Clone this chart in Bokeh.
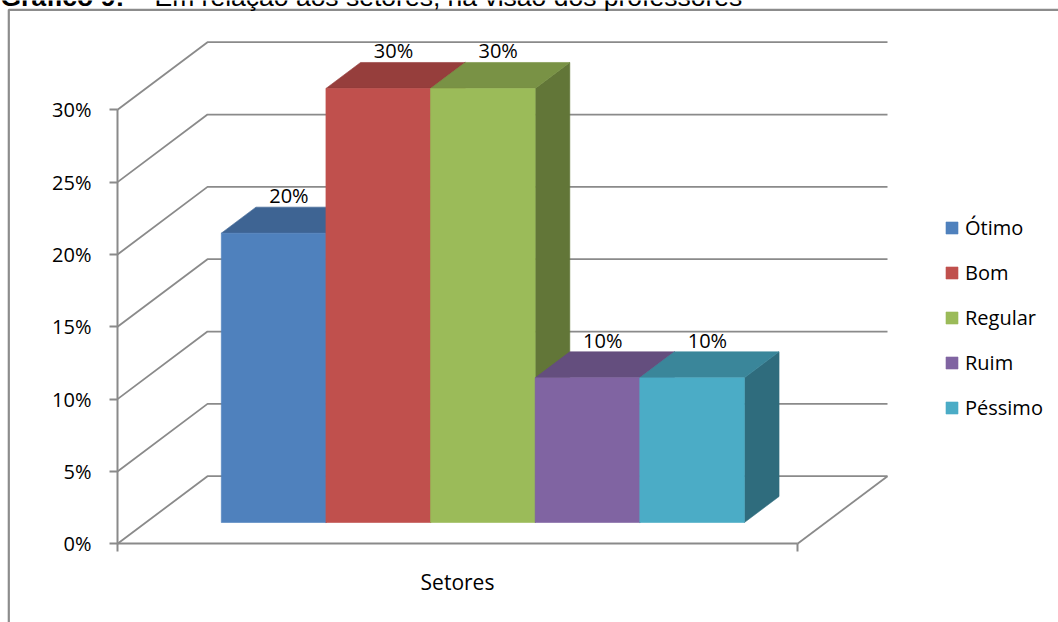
from bokeh.plotting import figure
from bokeh.models import (Range1d, LinearAxis, FixedTicker, Legend, LegendItem,
                          PrintfTickFormatter)
from bokeh.core.properties import value
from bokeh.embed import file_html
from bokeh.resources import INLINE

# ---------------- data ----------------
categories = ["Ótimo", "Bom", "Regular", "Ruim", "Péssimo"]
percent_values = [20, 30, 30, 10, 10]
y_ticks = [0, 5, 10, 15, 20, 25, 30]
x_axis_label = "Setores"
title_bold = "Gráfico 9:"
title_rest = "Em relação aos setores, na visão dos professores"

# ---------------- styles ----------------
front_colors = ["#4F81BD", "#C0504D", "#9BBB59", "#8064A2", "#4BACC6"]
top_colors = ["#3E6493", "#963E3C", "#799245", "#644E7E", "#3A869A"]
side_colors = ["#32517A", "#793231", "#627638", "#513F66", "#2F6C7D"]
grid_color = "#8A8A8A"
FONT = "Open Sans"
FS = "20px"

# ---------------- layout ----------------
W, H = 1058, 622
PX_PER_PCT = 14.467          # vertical pixels per percentage point
ORIGIN_X = 117               # x of the front value axis
ORIGIN_Y_PX = 543.3          # pixel row of 0 % on the front plane
FLOOR_W = 680                # width of the floor (front edge)
DEPTH_DX = 90                # horizontal shift of the back wall
DEPTH_DY = 67.6 / PX_PER_PCT  # vertical shift of the back wall, in % units
D_FRONT, D_BACK = 0.315, 0.70  # depth fractions of the bars
GAP_WIDTH = 1.5              # Excel gap width (150 %)
TEXT_LIFT = 8.5              # px correction of the text baseline


def y_of_px(py):
    return (ORIGIN_Y_PX - py) / PX_PER_PCT


p = figure(width=W, height=H, x_range=Range1d(0, W),
           y_range=Range1d(y_of_px(H), y_of_px(0)),
           output_backend="svg", toolbar_location=None,
           x_axis_type=None, y_axis_type=None, min_border=0,
           outline_line_color=None)
p.background_fill_color = "white"
p.border_fill_color = "white"

# outer chart-area border (left and top)
p.line(x=[8.3, 8.3, W + 5], y=[y_of_px(H + 5), y_of_px(9.3), y_of_px(9.3)],
       line_color="#8C8C8C", line_width=2.2)

# title (partly cut off at the top, as in the source)
p.text(x=[0], y=[y_of_px(5 - TEXT_LIFT)], text=[title_bold], text_font=value("Liberation Sans"),
       text_font_style="bold", text_font_size="26.5px", text_baseline="alphabetic",
       text_color="black")
p.text(x=[154], y=[y_of_px(5 - TEXT_LIFT)], text=[title_rest], text_font=value("Liberation Sans"),
       text_font_size="26.5px", text_baseline="alphabetic", text_color="black")

# walls: gridlines (left wall diagonal + back wall horizontal)
xs, ys = [], []
for t in y_ticks:
    xs.append([ORIGIN_X, ORIGIN_X + DEPTH_DX, ORIGIN_X + DEPTH_DX + FLOOR_W])
    ys.append([t, t + DEPTH_DY, t + DEPTH_DY])
# right edge of the floor
xs.append([ORIGIN_X + FLOOR_W, ORIGIN_X + FLOOR_W + DEPTH_DX])
ys.append([0, DEPTH_DY])
p.multi_line(xs=xs, ys=ys, line_color=grid_color, line_width=1.8)

# bars
n = len(categories)
bar_w = FLOOR_W / (n + GAP_WIDTH)
x_start = ORIGIN_X + D_FRONT * DEPTH_DX + bar_w * GAP_WIDTH / 2 - 3
base = D_FRONT * DEPTH_DY
ddx = (D_BACK - D_FRONT) * DEPTH_DX
ddy = (D_BACK - D_FRONT) * DEPTH_DY

legend_items = []
for i, (cat, v) in enumerate(zip(categories, percent_values)):
    xl = x_start + i * bar_w
    xr = xl + bar_w
    top = v + base
    # side face
    p.patch(x=[xr, xr, xr + ddx, xr + ddx], y=[base, top, top + ddy, base + ddy],
            fill_color=side_colors[i], line_color=side_colors[i], line_width=0.6)
    # top face
    p.patch(x=[xl, xr, xr + ddx, xl + ddx], y=[top, top, top + ddy, top + ddy],
            fill_color=top_colors[i], line_color=top_colors[i], line_width=0.6)
    # front face
    r = p.quad(left=[xl], right=[xr], bottom=[base], top=[top],
               fill_color=front_colors[i], line_color=front_colors[i], line_width=0.6)
    legend_items.append(LegendItem(label=cat, renderers=[r]))
    # data label
    p.text(x=[(xl + xr + ddx) / 2 - 2], y=[top + ddy + (3 + TEXT_LIFT) / PX_PER_PCT],
           text=[f"{v}%"], text_font=value(FONT), text_font_size=FS, text_align="center",
           text_baseline="alphabetic", text_color="black")

# value axis (front)
yaxis = LinearAxis(fixed_location=ORIGIN_X, bounds=(0, 30),
                   ticker=FixedTicker(ticks=y_ticks, minor_ticks=[]),
                   formatter=PrintfTickFormatter(format="%d%%"))
yaxis.axis_line_color = grid_color
yaxis.axis_line_width = 2
yaxis.major_tick_line_color = grid_color
yaxis.major_tick_line_width = 2
yaxis.major_tick_in = 0
yaxis.major_tick_out = 8
yaxis.minor_tick_out = 0
yaxis.major_label_standoff = 18
yaxis.major_label_text_font = FONT
yaxis.major_label_text_font_size = FS
yaxis.major_label_text_color = "black"
p.add_layout(yaxis, "left")

# category axis (front floor edge)
xaxis = LinearAxis(fixed_location=0, bounds=(ORIGIN_X, ORIGIN_X + FLOOR_W),
                   ticker=FixedTicker(ticks=[ORIGIN_X, ORIGIN_X + FLOOR_W], minor_ticks=[]),
                   major_label_overrides={ORIGIN_X: "", ORIGIN_X + FLOOR_W: ""})
xaxis.axis_line_color = grid_color
xaxis.axis_line_width = 2
xaxis.major_tick_line_color = grid_color
xaxis.major_tick_line_width = 2
xaxis.major_tick_in = 0
xaxis.major_tick_out = 8
xaxis.minor_tick_out = 0
xaxis.major_label_text_font_size = "0px"
xaxis.axis_label = x_axis_label
xaxis.axis_label_text_font = FONT
xaxis.axis_label_text_font_size = "21px"
xaxis.axis_label_text_font_style = "normal"
xaxis.axis_label_text_color = "black"
xaxis.axis_label_standoff = 16
p.add_layout(xaxis, "below")

legend = Legend(items=legend_items, location=(944, 201), orientation="vertical",
                glyph_width=15, glyph_height=15, label_standoff=6, spacing=18,
                padding=0, margin=0, border_line_color=None, background_fill_alpha=0,
                label_text_font=FONT, label_text_font_size=FS, label_text_color="black")
p.add_layout(legend)

open("out.html", "w").write(file_html(p, INLINE))
